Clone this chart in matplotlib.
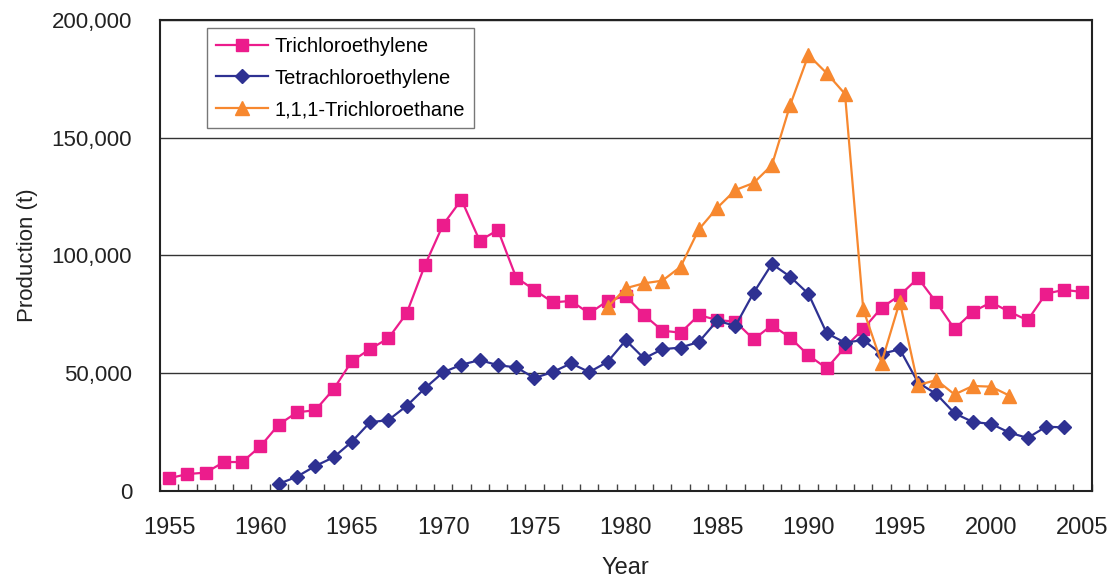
import numpy as np
import matplotlib.pyplot as plt
from matplotlib.ticker import FuncFormatter

plt.rcParams['font.family'] = ['Liberation Sans', 'DejaVu Sans']

## Dados (t)
years_tce = list(range(1955, 2006))
tce = [5.4, 7.2, 7.8, 12.3, 12.3, 19.0, 28.2, 33.4, 34.3, 43.2,
       55.1, 60.3, 64.8, 75.4, 95.8, 113.1, 123.7, 106.3, 110.8, 90.6,
       85.4, 80.1, 80.7, 75.4, 80.7, 82.8, 74.7, 68.1, 67.2, 74.7,
       72.6, 71.9, 64.4, 70.4, 65.1, 57.6, 52.1, 61.0, 68.8, 77.8,
       83.1, 90.4, 80.1, 68.8, 76.1, 80.1, 76.1, 72.5, 83.8, 85.4,
       84.5]

years_pce = list(range(1961, 2005))
pce = [3.0, 6.1, 10.6, 14.3, 20.9, 29.2, 30.1, 36.1, 43.6, 50.4,
       53.6, 55.6, 53.4, 52.5, 48.0, 50.5, 54.2, 50.5, 54.8, 64.0,
       56.3, 60.2, 60.9, 63.3, 72.3, 70.1, 84.2, 96.4, 91.0, 83.7,
       67.0, 63.0, 64.1, 58.2, 60.2, 46.0, 41.2, 33.0, 29.3, 28.5,
       24.8, 22.5, 27.3, 27.0]

years_tca = list(range(1979, 2002))
tca = [78.0, 86.1, 88.2, 89.3, 95.2, 111.1, 120.2, 127.8, 130.8, 138.4,
       163.9, 185.1, 177.4, 168.6, 77.1, 54.5, 80.4, 45.0, 47.1, 41.0,
       44.6, 44.3, 40.5]

labels = ['Trichloroethylene', 'Tetrachloroethylene', '1,1,1-Trichloroethane']
cores = ['#EC1C8C', '#2E3192', '#F7882F']

fig, ax = plt.subplots(figsize=(11.15, 5.79), dpi=100)
fig.subplots_adjust(left=0.1435, right=0.979, top=0.9655, bottom=0.152)

ax.plot(years_tce, np.array(tce) * 1000, color=cores[0], marker='s',
        markersize=8.5, linewidth=1.6, label=labels[0])
ax.plot(years_pce, np.array(pce) * 1000, color=cores[1], marker='D',
        markersize=7.5, linewidth=1.6, label=labels[1])
ax.plot(years_tca, np.array(tca) * 1000, color=cores[2], marker='^',
        markersize=10, linewidth=1.6, label=labels[2])

ax.set_xlim(1954.5, 2005.5)
ax.set_ylim(0, 200000)
ax.set_xticks(range(1955, 2006, 5))
ax.set_xticks(np.arange(1954.5, 2006, 1), minor=True)
ax.tick_params(axis='x', which='major', length=0, pad=19, labelsize=17, labelcolor='#222222')
ax.tick_params(axis='x', which='minor', length=5, width=1, color='#444444', direction='in')
ax.set_yticks([0, 50000, 100000, 150000, 200000])
ax.yaxis.set_major_formatter(FuncFormatter(lambda v, p: f'{int(v):,}'))
ax.tick_params(axis='y', length=0, pad=20, labelsize=16, labelcolor='#222222')

ax.grid(axis='y', color='#333333', linewidth=1)
ax.set_axisbelow(True)
for s in ax.spines.values():
    s.set_linewidth(1.5)
    s.set_color('#222222')

ax.set_xlabel('Year', fontsize=17, labelpad=13, color='#222222')
ax.set_ylabel('Production (t)', fontsize=16, labelpad=10, color='#222222')

leg = ax.legend(loc='upper left', bbox_to_anchor=(0.05, 0.983), borderaxespad=0,
                fontsize=14.5, frameon=True, fancybox=False, edgecolor='#555555',
                handlelength=2.6, handletextpad=0.3, borderpad=0.45, labelspacing=0.62)
leg.get_frame().set_linewidth(1)

plt.savefig('out.png', dpi=100)
